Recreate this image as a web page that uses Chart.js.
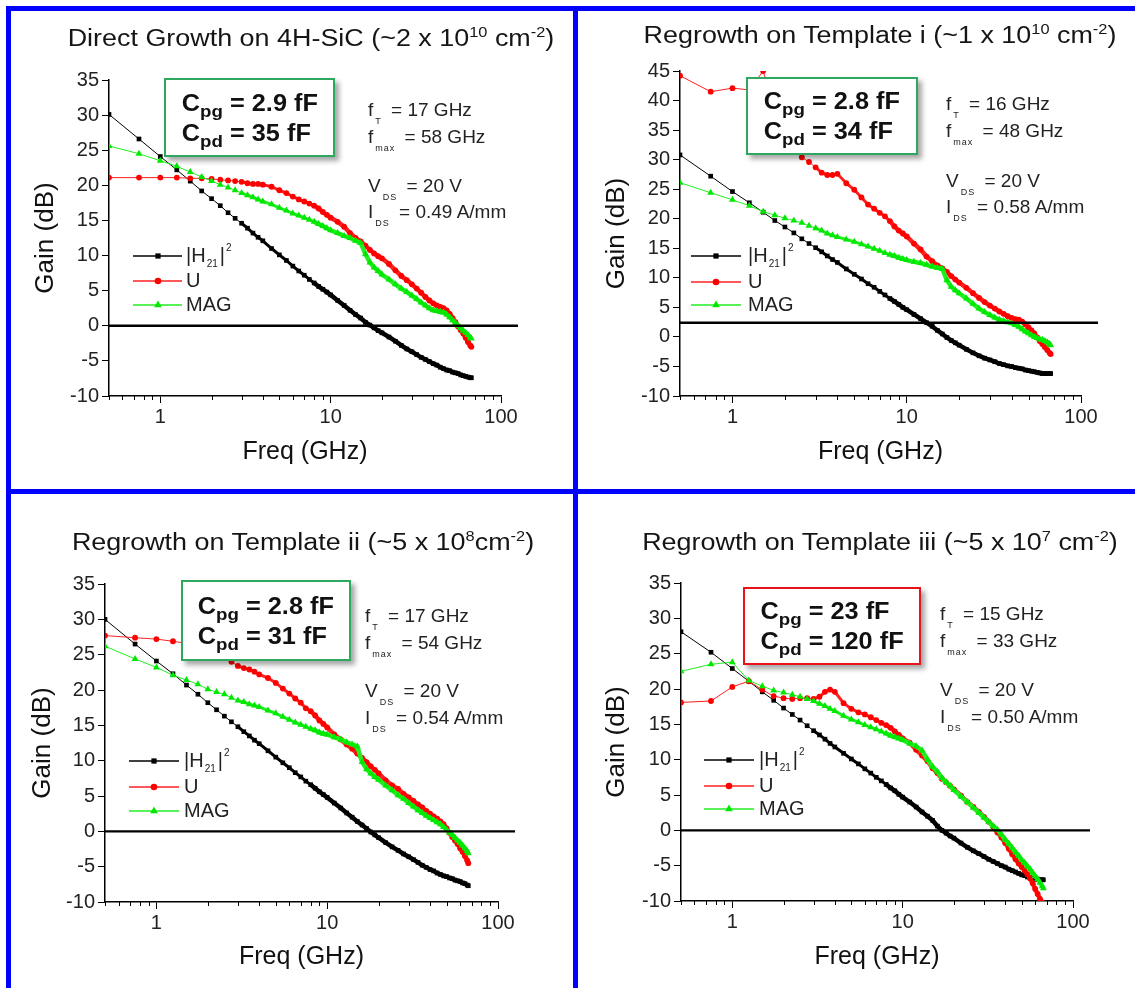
<!DOCTYPE html>
<html>
<head>
<meta charset="utf-8">
<title>Gain vs frequency</title>
<script src="https://cdn.jsdelivr.net/npm/chart.js@4.4.1/dist/chart.umd.min.js"></script>
<style>
  body { margin: 0; background: #fff; font-family: "Liberation Sans", Arial, sans-serif; color: #1a1a1a; }
  #page { position: relative; width: 1135px; height: 988px; overflow: hidden; background: #fff; }
  .bar { position: absolute; background: #0000ff; z-index: 3; }
  canvas { position: absolute; }
  .title { position: absolute; z-index: 2; font-size: 23px; white-space: nowrap; color: #151515; transform: translate(-50%, -50%) scaleX(1.17); }
  .title sup { font-size: 14px; vertical-align: 9px; line-height: 0; }
  .box { position: absolute; z-index: 2; background: #fff; border: 2px solid #2fa85f; box-shadow: 4px 4px 5px rgba(0,0,0,0.35); box-sizing: border-box; display: flex; align-items: center; justify-content: center; }
  .box.bad { border-color: #e8141c; }
  .box div { font-weight: bold; font-size: 23px; line-height: 30px; color: #111; transform: scaleX(1.1); white-space: nowrap; }
  .box sub { font-size: 17px; vertical-align: -6px; line-height: 0; }
  .param { position: absolute; z-index: 2; font-size: 19px; line-height: 22px; white-space: nowrap; color: #222; }
  .param sub { font-size: 9px; vertical-align: -8px; line-height: 0; letter-spacing: 1px; margin: 0 4px 0 2px; }
</style>
</head>
<body>
<div id="page">
  <div class="bar" style="left:6px;top:6px;width:5px;height:982px"></div>
  <div class="bar" style="left:6px;top:6px;width:1129px;height:5px"></div>
  <div class="bar" style="left:573px;top:6px;width:5px;height:982px"></div>
  <div class="bar" style="left:6px;top:489px;width:1129px;height:5px"></div>

  <div class="title" style="left:311px;top:38px">Direct Growth on 4H-SiC (~2 x 10<sup>10</sup> cm<sup>-2</sup>)</div>
  <div class="title" style="left:880px;top:35px">Regrowth on Template i (~1 x 10<sup>10</sup> cm<sup>-2</sup>)</div>
  <div class="title" style="left:303px;top:542px">Regrowth on Template ii (~5 x 10<sup>8</sup>cm<sup>-2</sup>)</div>
  <div class="title" style="left:880px;top:542px">Regrowth on Template iii (~5 x 10<sup>7</sup> cm<sup>-2</sup>)</div>

  <div class="box" style="left:164px;top:78px;width:171px;height:79px"><div>C<sub>pg</sub> = 2.9 fF<br>C<sub>pd</sub> = 35 fF</div></div>
  <div class="box" style="left:746px;top:77px;width:172px;height:78px"><div>C<sub>pg</sub> = 2.8 fF<br>C<sub>pd</sub> = 34 fF</div></div>
  <div class="box" style="left:181px;top:580px;width:170px;height:81px"><div>C<sub>pg</sub> = 2.8 fF<br>C<sub>pd</sub> = 31 fF</div></div>
  <div class="box bad" style="left:743px;top:587px;width:178px;height:78px"><div>C<sub>pg</sub> = 23 fF<br>C<sub>pd</sub> = 120 fF</div></div>

  <div class="param" style="left:368px;top:99px">f<sub>T</sub> = 17 GHz</div>
  <div class="param" style="left:368px;top:126px">f<sub>max</sub> = 58 GHz</div>
  <div class="param" style="left:368px;top:175px">V<sub>DS</sub> = 20 V</div>
  <div class="param" style="left:368px;top:201px">I<sub>DS</sub> = 0.49 A/mm</div>

  <div class="param" style="left:946px;top:93px">f<sub>T</sub> = 16 GHz</div>
  <div class="param" style="left:946px;top:120px">f<sub>max</sub> = 48 GHz</div>
  <div class="param" style="left:946px;top:170px">V<sub>DS</sub> = 20 V</div>
  <div class="param" style="left:946px;top:196px">I<sub>DS</sub> = 0.58 A/mm</div>

  <div class="param" style="left:365px;top:605px">f<sub>T</sub> = 17 GHz</div>
  <div class="param" style="left:365px;top:632px">f<sub>max</sub> = 54 GHz</div>
  <div class="param" style="left:365px;top:680px">V<sub>DS</sub> = 20 V</div>
  <div class="param" style="left:365px;top:707px">I<sub>DS</sub> = 0.54 A/mm</div>

  <div class="param" style="left:940px;top:603px">f<sub>T</sub> = 15 GHz</div>
  <div class="param" style="left:940px;top:630px">f<sub>max</sub> = 33 GHz</div>
  <div class="param" style="left:940px;top:679px">V<sub>DS</sub> = 20 V</div>
  <div class="param" style="left:940px;top:706px">I<sub>DS</sub> = 0.50 A/mm</div>
</div>

<script>
// frequency points (GHz), shared by every panel
const freqGHz = [0.5, 0.75, 1, 1.25, 1.5, 1.75, 2, 2.25, 2.5, 2.75, 3, 3.25, 3.5, 3.75, 4,
  4.5, 5, 5.5, 6, 6.5, 7, 7.5, 8, 8.5, 9, 9.5, 10,
  11, 12, 13, 14, 15, 16, 17, 18, 19, 20,
  22, 24, 26, 28, 30, 32, 34, 36, 38, 40, 42, 44, 46, 48, 50, 52, 54, 56, 58, 60, 62, 64, 66, 67];

// Direct growth on 4H-SiC
const h21Direct = [30.1, 26.6, 24.1, 22.2, 20.6, 19.2, 18.1, 17.1, 16.1, 15.3, 14.6, 13.9, 13.2, 12.6, 12.1,
  11.0, 10.1, 9.3, 8.5, 7.8, 7.2, 6.6, 6.1, 5.6, 5.2, 4.8, 4.4,
  3.6, 2.9, 2.2, 1.6, 1.1, 0.5, 0.1, -0.3, -0.7, -1.0,
  -1.6, -2.2, -2.8, -3.3, -3.7, -4.1, -4.5, -4.8, -5.1, -5.4, -5.6, -5.9, -6.1, -6.3, -6.4, -6.6, -6.7, -6.8, -7.0, -7.1, -7.2, -7.3, -7.4, -7.4];
const uDirect = [21.1, 21.1, 21.1, 21.1, 21.0, 21.0, 20.9, 20.8, 20.7, 20.6, 20.5, 20.3, 20.2, 20.2, 20.1,
  19.8, 19.3, 18.9, 18.4, 18.0, 17.7, 17.4, 17.1, 16.7, 16.2, 15.8, 15.4,
  14.8, 14.1, 13.2, 12.5, 12.0, 11.4, 10.8, 10.3, 9.9, 9.6,
  8.8, 7.9, 7.1, 6.5, 5.9, 5.3, 4.7, 4.1, 3.6, 3.2, 2.9, 2.7, 2.5, 2.2, 1.7, 1.1, 0.5, -0.1, -0.6, -1.1, -1.7, -2.3, -2.8, -3.0];
const magDirect = [25.6, 24.5, 23.5, 22.7, 21.9, 21.2, 20.6, 20.1, 19.7, 19.3, 18.9, 18.6, 18.3, 18.0, 17.7,
  17.3, 16.8, 16.4, 16.0, 15.7, 15.4, 15.1, 14.8, 14.5, 14.2, 13.9, 13.6,
  13.2, 12.8, 12.5, 12.1, 11.8, 10.2, 9.0, 8.3, 7.8, 7.3,
  6.6, 5.9, 5.3, 4.8, 4.3, 3.8, 3.3, 2.9, 2.5, 2.2, 2.1, 2.0, 1.9, 1.6, 1.2, 0.8, 0.4, 0.0, -0.3, -0.7, -1.0, -1.3, -1.7, -1.8];

// Regrowth on template i
const h21TplI = [30.8, 27.2, 24.6, 22.7, 21.1, 19.7, 18.6, 17.6, 16.6, 15.8, 15.1, 14.4, 13.7, 13.1, 12.6,
  11.5, 10.6, 9.8, 9.0, 8.4, 7.7, 7.1, 6.5, 6.0, 5.5, 5.0, 4.6,
  3.8, 3.1, 2.4, 1.8, 1.1, 0.5, -0.1, -0.6, -1.0, -1.4,
  -2.1, -2.7, -3.2, -3.6, -3.9, -4.2, -4.5, -4.7, -4.9, -5.0, -5.2, -5.3, -5.4, -5.6, -5.7, -5.8, -5.9, -6.0, -6.1, -6.2, -6.2, -6.2, -6.2, -6.2];
const uTplI = [44.2, 41.5, 42.1, 41.8, 45.0, 38.5, 35.0, 32.5, 30.4, 29.6, 28.7, 27.8, 27.4, 27.4, 27.6,
  26.0, 24.9, 23.6, 22.4, 21.7, 21.0, 20.4, 19.6, 18.7, 18.0, 17.5, 17.0,
  15.8, 14.8, 13.6, 12.8, 12.1, 11.6, 11.0, 10.3, 9.7, 9.2,
  8.3, 7.4, 6.6, 5.9, 5.3, 4.8, 4.3, 3.9, 3.5, 3.2, 3.0, 2.9, 2.6, 2.1, 1.6, 1.1, 0.6, -0.1, -0.7, -1.2, -1.7, -2.2, -2.7, -2.9];
const magTplI = [26.1, 24.4, 23.2, 22.2, 21.2, 20.6, 20.1, 19.7, 19.3, 18.8, 18.4, 18.0, 17.5, 17.2, 16.9,
  16.5, 16.1, 15.7, 15.3, 14.9, 14.6, 14.2, 13.9, 13.7, 13.4, 13.2, 13.0,
  12.7, 12.5, 12.2, 11.9, 11.7, 11.5, 9.6, 8.5, 7.9, 7.4,
  6.5, 5.6, 4.8, 4.2, 3.7, 3.3, 2.9, 2.7, 2.5, 2.3, 2.0, 1.7, 1.3, 0.9, 0.6, 0.3, 0.0, -0.2, -0.4, -0.5, -0.7, -0.9, -1.2, -1.4];

// Regrowth on template ii
const h21TplII = [30.0, 26.5, 24.1, 22.3, 20.7, 19.4, 18.2, 17.2, 16.3, 15.5, 14.8, 14.1, 13.5, 12.9, 12.4,
  11.4, 10.5, 9.7, 9.0, 8.3, 7.7, 7.1, 6.6, 6.1, 5.6, 5.2, 4.8,
  4.0, 3.3, 2.6, 2.0, 1.4, 0.9, 0.4, -0.1, -0.5, -0.9,
  -1.6, -2.2, -2.7, -3.2, -3.6, -4.0, -4.4, -4.8, -5.1, -5.4, -5.6, -5.9, -6.1, -6.3, -6.4, -6.6, -6.7, -6.9, -7.0, -7.1, -7.3, -7.4, -7.6, -7.7];
const uTplII = [27.7, 27.4, 27.2, 26.9, 26.6, 26.2, 25.7, 25.2, 24.6, 24.0, 23.4, 23.1, 22.9, 22.6, 22.2,
  21.7, 21.0, 20.2, 19.5, 18.8, 18.2, 17.4, 17.0, 16.4, 15.7, 15.2, 14.7,
  13.7, 13.0, 12.3, 11.7, 11.0, 10.4, 9.8, 9.2, 8.7, 8.2,
  7.2, 6.5, 6.0, 5.3, 4.8, 4.3, 3.8, 3.4, 2.9, 2.5, 2.1, 1.8, 1.4, 1.0, 0.4, -0.2, -0.8, -1.3, -1.8, -2.4, -2.9, -3.5, -4.1, -4.5];
const magTplII = [26.2, 24.4, 23.2, 22.1, 21.4, 20.8, 20.1, 19.7, 19.4, 18.9, 18.5, 18.3, 18.0, 17.8, 17.6,
  17.1, 16.7, 16.2, 15.8, 15.4, 15.1, 14.8, 14.5, 14.3, 14.0, 13.8, 13.7,
  13.3, 13.0, 12.6, 12.3, 12.0, 9.8, 8.8, 8.2, 7.7, 7.3,
  6.5, 5.8, 5.1, 4.6, 4.0, 3.5, 3.0, 2.6, 2.2, 1.9, 1.6, 1.3, 1.0, 0.6, 0.2, -0.2, -0.5, -0.9, -1.3, -1.6, -2.0, -2.4, -2.8, -3.1];

// Regrowth on template iii
const h21TplIII = [28.1, 25.2, 22.9, 21.1, 19.6, 18.4, 17.3, 16.4, 15.6, 14.8, 14.1, 13.5, 12.9, 12.3, 11.8,
  10.9, 10.1, 9.4, 8.7, 8.1, 7.5, 7.0, 6.5, 6.0, 5.6, 5.1, 4.7,
  4.0, 3.3, 2.6, 2.0, 1.4, 0.6, 0.0, -0.4, -0.8, -1.1,
  -1.8, -2.4, -2.9, -3.3, -3.7, -4.1, -4.4, -4.7, -5.0, -5.2, -5.5, -5.7, -5.9, -6.1, -6.3, -6.4, -6.6, -6.7, -6.8, -6.9, -6.9, -7.0, -7.0, -7.0];
const uTplIII = [18.1, 18.3, 20.3, 21.1, 19.9, 19.0, 18.7, 18.6, 18.7, 18.7, 18.6, 18.9, 19.6, 19.9, 19.6,
  18.0, 17.2, 16.7, 16.4, 16.0, 15.6, 15.2, 14.9, 14.5, 14.0, 13.5, 13.0,
  12.4, 11.4, 10.6, 9.8, 8.8, 8.1, 7.3, 6.8, 6.3, 5.8,
  4.9, 4.0, 3.3, 2.6, 1.9, 1.2, 0.5, -0.3, -1.0, -1.8, -2.6, -3.4, -4.1, -4.7, -5.2, -5.7, -6.2, -6.8, -7.5, -8.3, -9.0, -9.7, -10.2, -10.5];
const magTplIII = [22.5, 23.5, 23.8, 21.2, 20.4, 19.8, 19.5, 19.2, 18.9, 18.6, 18.3, 17.9, 17.6, 17.2, 16.9,
  16.2, 15.7, 15.3, 14.9, 14.6, 14.3, 14.0, 13.7, 13.4, 13.2, 13.0, 12.8,
  12.3, 11.9, 11.3, 10.0, 9.0, 8.3, 7.4, 6.8, 6.3, 5.7,
  4.8, 4.0, 3.2, 2.5, 1.8, 1.2, 0.6, 0.1, -0.6, -1.3, -1.9, -2.5, -3.1, -3.6, -4.2, -4.6, -5.1, -5.5, -6.0, -6.5, -6.9, -7.4, -7.9, -8.2];

const seriesNames = ['|H21|²', 'U', 'MAG'];
const xTickValues = [0.5, 0.6, 0.7, 0.8, 0.9, 1, 2, 3, 4, 5, 6, 7, 8, 9, 10, 20, 30, 40, 50, 60, 70, 80, 90, 100];
const xMajor = [1, 10, 100];
const yMaxes = [35, 45, 35, 35];
const refLevels = [0, 2.4, 0, 0];

Chart.defaults.font.family = '"Liberation Sans", Arial, sans-serif';

// page positions of each panel (canvas origin, plot area, titles, legend)
const panels = [
  { ox: 12, oy: 12, w: 560, h: 476, L: 109, T: 80, R: 501, B: 396, gainX: 46, freqY: 452, lineEnd: 518,
    leg: { x0: 133, x1: 182, mx: 158, tx: 186, rows: [256, 281, 305] }, series: [h21Direct, uDirect, magDirect] },
  { ox: 579, oy: 12, w: 556, h: 476, L: 680, T: 71, R: 1081, B: 396, gainX: 617, freqY: 452, lineEnd: 1098,
    leg: { x0: 691, x1: 741, mx: 716, tx: 748, rows: [256, 282, 305] }, series: [h21TplI, uTplI, magTplI] },
  { ox: 12, oy: 495, w: 560, h: 493, L: 105, T: 584, R: 498, B: 902, gainX: 43, freqY: 957, lineEnd: 515,
    leg: { x0: 129, x1: 179, mx: 154, tx: 184, rows: [761, 787, 811] }, series: [h21TplII, uTplII, magTplII] },
  { ox: 579, oy: 495, w: 556, h: 493, L: 681, T: 583, R: 1073, B: 901, gainX: 617, freqY: 957, lineEnd: 1090,
    leg: { x0: 704, x1: 754, mx: 729, tx: 759, rows: [760, 786, 809] }, series: [h21TplIII, uTplIII, magTplIII] }
];

const extras = {
  id: 'extras',
  afterDraw(chart, args, o) {
    const { ctx, chartArea: a, scales: { x, y } } = chart;
    ctx.save();
    // minor ticks
    ctx.strokeStyle = '#000';
    ctx.lineWidth = 1;
    ctx.beginPath();
    x.ticks.forEach(t => {
      if (!xMajor.includes(t.value)) {
        const px = Math.round(x.getPixelForValue(t.value)) + 0.5;
        ctx.moveTo(px, a.bottom); ctx.lineTo(px, a.bottom + 4);
      }
    });
    y.ticks.forEach(t => {
      if (t.value % 5 !== 0) {
        const py = Math.round(y.getPixelForValue(t.value)) + 0.5;
        ctx.moveTo(a.left, py); ctx.lineTo(a.left - 4, py);
      }
    });
    ctx.stroke();

    // reference line
    const ry = y.getPixelForValue(o.level);
    ctx.lineWidth = 2.4;
    ctx.beginPath();
    ctx.moveTo(a.left, ry); ctx.lineTo(o.lineEnd, ry);
    ctx.stroke();

    // legend
    const ds = chart.data.datasets;
    const lg = o.leg;
    lg.rows.forEach((ly, i) => {
      const d = ds[i];
      ctx.strokeStyle = d.borderColor;
      ctx.lineWidth = 1.5;
      ctx.beginPath(); ctx.moveTo(lg.x0, ly); ctx.lineTo(lg.x1, ly); ctx.stroke();
      ctx.fillStyle = d.backgroundColor;
      Chart.helpers.drawPoint(ctx, { pointStyle: d.pointStyle, radius: d.pointRadius + 0.4, borderWidth: 0, rotation: 0 }, lg.mx, ly);
      ctx.fillStyle = '#222';
      ctx.textBaseline = 'middle';
      ctx.textAlign = 'left';
      const big = '20px "Liberation Sans", Arial, sans-serif';
      const small = '10px "Liberation Sans", Arial, sans-serif';
      ctx.font = big;
      if (i === 0) {
        ctx.fillText('|H', lg.tx, ly);
        let cx = lg.tx + ctx.measureText('|H').width + 1;
        ctx.font = small;
        ctx.fillText('21', cx, ly + 8);
        cx += ctx.measureText('21').width + 2;
        ctx.font = big;
        ctx.fillText('|', cx, ly);
        cx += ctx.measureText('|').width + 1;
        ctx.font = small;
        ctx.fillText('2', cx, ly - 8);
      } else {
        ctx.fillText(seriesNames[i], lg.tx, ly);
      }
    });
    ctx.restore();
  }
};

const page = document.getElementById('page');
panels.forEach((p, k) => {
  const cv = document.createElement('canvas');
  cv.width = p.w; cv.height = p.h;
  cv.style.left = p.ox + 'px'; cv.style.top = p.oy + 'px';
  cv.style.width = p.w + 'px'; cv.style.height = p.h + 'px';
  page.insertBefore(cv, page.firstChild);

  const L = p.L - p.ox, T = p.T - p.oy, R = p.R - p.ox, B = p.B - p.oy;
  const pts = arr => freqGHz.map((f, i) => ({ x: f, y: arr[i] }));
  const thick = c => c.p0.parsed.x >= 8 ? 4.5 : (c.p0.parsed.x >= 3 ? 3 : 1);
  const leg = {
    x0: p.leg.x0 - p.ox, x1: p.leg.x1 - p.ox, mx: p.leg.mx - p.ox, tx: p.leg.tx - p.ox,
    rows: p.leg.rows.map(v => v - p.oy)
  };

  new Chart(cv, {
    type: 'line',
    data: {
      datasets: [
        { label: seriesNames[0], data: pts(p.series[0]), borderColor: '#000000', backgroundColor: '#000000',
          borderWidth: 1, pointStyle: 'rect', pointRadius: 3.3, pointBorderWidth: 0, order: 3, segment: { borderWidth: thick } },
        { label: seriesNames[1], data: pts(p.series[1]), borderColor: '#ff2020', backgroundColor: '#ff0000',
          borderWidth: 1, pointStyle: 'circle', pointRadius: 2.9, pointBorderWidth: 0, order: 2, segment: { borderWidth: thick } },
        { label: seriesNames[2], data: pts(p.series[2]), borderColor: '#22ee22', backgroundColor: '#00e800',
          borderWidth: 1, pointStyle: 'triangle', pointRadius: 4, pointBorderWidth: 0, order: 1, segment: { borderWidth: thick } }
      ]
    },
    options: {
      responsive: false,
      animation: false,
      devicePixelRatio: 1,
      layout: { padding: { left: 0, top: T, right: p.w - R, bottom: 0 } },
      plugins: {
        legend: { display: false },
        tooltip: { enabled: false },
        extras: { level: refLevels[k], lineEnd: p.lineEnd - p.ox, leg: leg }
      },
      scales: {
        x: {
          type: 'logarithmic', min: 0.5, max: 100,
          afterBuildTicks: s => { s.ticks = xTickValues.map(v => ({ value: v, major: xMajor.includes(v) })); },
          afterFit: s => { s.height = p.h - B; },
          ticks: { autoSkip: false, maxRotation: 0, padding: 2, color: '#222', font: { size: 20 },
            callback: v => xMajor.includes(v) ? String(v) : '' },
          grid: { drawOnChartArea: false, tickLength: 7, tickWidth: 1,
            tickColor: c => (c.tick && xMajor.includes(c.tick.value)) ? '#000' : 'rgba(0,0,0,0)' },
          border: { color: '#000', width: 1.5 },
          title: { display: true, text: 'Freq (GHz)', color: '#111', font: { size: 25 },
            padding: { top: 0, bottom: p.h - (p.freqY - p.oy) - 15 } }
        },
        y: {
          min: -10, max: yMaxes[k],
          afterFit: s => { s.width = L; },
          ticks: { stepSize: 2.5, padding: 3, color: '#222', font: { size: 20 },
            callback: v => (v % 5 === 0) ? String(v) : '' },
          grid: { drawOnChartArea: false, tickLength: 7, tickWidth: 1,
            tickColor: c => (c.tick && c.tick.value % 5 === 0) ? '#000' : 'rgba(0,0,0,0)' },
          border: { color: '#000', width: 1.5 },
          title: { display: true, text: 'Gain (dB)', color: '#111', font: { size: 26 },
            padding: { top: (p.gainX - p.ox) - 15.6, bottom: 0 } }
        }
      }
    },
    plugins: [extras]
  });
});
</script>
</body>
</html>
